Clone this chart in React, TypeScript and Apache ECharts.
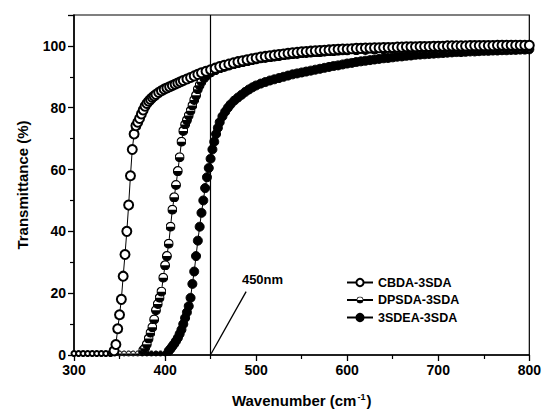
import React, { useEffect, useRef } from "react";
import * as echarts from "echarts";

const xTicks = [300, 400, 500, 600, 700, 800];
const yTicks = [0, 20, 40, 60, 80, 100];

const seriesNames = ["CBDA-3SDA", "DPSDA-3SDA", "3SDEA-3SDA"];

const cbda: [number, number][] = [
  [300, 0.5], [305, 0.5], [310, 0.5], [315, 0.5], [320, 0.5], [325, 0.5], [330, 0.5], [335, 0.5], [340, 0.5],
  [342, 0.7], [344, 1.4], [346, 3.4], [348, 8.5], [350, 13], [352, 18], [354, 25.5], [356, 32.5], [358, 40],
  [360, 48.5], [362, 58], [364, 66.5], [366, 71.5], [368, 74.2], [370, 75.3], [372, 76.5], [374, 78],
  [376, 79.3], [378, 80.5], [380, 81.4], [382, 82.1], [384, 82.7], [386, 83.3], [388, 83.8], [390, 84.3],
  [393, 84.9], [396, 85.5], [399, 86], [402, 86.4], [405, 86.8], [408, 87.2], [411, 87.6], [414, 88],
  [417, 88.4], [420, 88.8], [424, 89.3], [428, 89.8], [432, 90.3], [436, 90.8], [440, 91.3], [445, 91.8],
  [450, 92.3], [455, 92.8], [460, 93.3], [465, 93.7], [470, 94.1], [475, 94.5], [480, 94.9], [485, 95.2],
  [490, 95.5], [495, 95.8], [500, 96.1], [505, 96.4], [510, 96.6], [515, 96.8], [520, 97], [525, 97.2],
  [530, 97.4], [535, 97.6], [540, 97.8], [545, 97.9], [550, 98.1], [555, 98.2], [560, 98.3], [565, 98.4],
  [570, 98.5], [575, 98.6], [580, 98.7], [585, 98.8], [590, 98.9], [595, 99], [600, 99], [605, 99.1],
  [610, 99.2], [615, 99.2], [620, 99.3], [625, 99.3], [630, 99.4], [635, 99.4], [640, 99.5], [645, 99.5],
  [650, 99.5], [655, 99.6], [660, 99.6], [665, 99.7], [670, 99.7], [675, 99.7], [680, 99.8], [685, 99.8],
  [690, 99.8], [695, 99.9], [700, 99.9], [705, 99.9], [710, 100], [715, 100], [720, 100], [725, 100],
  [730, 100], [735, 100.1], [740, 100.1], [745, 100.1], [750, 100.1], [755, 100.1], [760, 100.1],
  [765, 100.2], [770, 100.2], [775, 100.2], [780, 100.2], [785, 100.2], [790, 100.2], [795, 100.2], [800, 100.2],
];

const dpsda: [number, number][] = [
  [300, 0.5], [305, 0.5], [310, 0.5], [315, 0.5], [320, 0.5], [325, 0.5], [330, 0.5], [335, 0.5], [340, 0.5],
  [345, 0.5], [350, 0.5], [355, 0.5], [360, 0.5], [365, 0.5], [370, 0.5],
  [373, 0.9], [376, 1.5], [378, 2.2], [380, 3.5], [382, 5.3], [384, 7.2], [386, 9], [388, 11.5], [390, 14.5],
  [392, 16.5], [394, 18.5], [396, 20.5], [398, 25], [400, 29], [402, 32], [404, 36], [406, 41.5], [408, 47],
  [410, 51], [412, 55], [414, 59.5], [416, 64], [418, 69], [420, 72.5], [422, 74.6], [424, 76], [426, 77.5],
  [428, 79], [430, 80.7], [432, 82.5], [434, 84], [436, 86], [438, 87.3], [440, 88.4], [443, 89.6],
  [446, 90.5], [450, 91.4], [455, 92.1], [460, 92.7], [465, 93.2], [470, 93.6], [475, 94], [480, 94.4],
  [485, 94.7], [490, 95], [495, 95.3], [500, 95.6], [505, 95.9], [510, 96.1], [515, 96.3], [520, 96.5],
  [525, 96.7], [530, 96.9], [535, 97.1], [540, 97.3], [545, 97.4], [550, 97.6], [555, 97.7], [560, 97.8],
  [565, 97.9], [570, 98], [575, 98.1], [580, 98.2], [585, 98.3], [590, 98.4], [595, 98.5], [600, 98.5],
  [610, 98.6], [620, 98.7], [630, 98.8], [640, 98.9], [650, 99], [660, 99.1], [670, 99.2], [680, 99.3],
  [690, 99.3], [700, 99.4], [710, 99.4], [720, 99.5], [730, 99.5], [740, 99.6], [750, 99.6], [760, 99.6],
  [770, 99.7], [780, 99.7], [790, 99.7], [800, 99.7],
];

const sdea: [number, number][] = [
  [300, 0.5], [305, 0.5], [310, 0.5], [315, 0.5], [320, 0.5], [325, 0.5], [330, 0.5], [335, 0.5], [340, 0.5],
  [345, 0.5], [350, 0.5], [355, 0.5], [360, 0.5], [365, 0.5], [370, 0.5], [375, 0.5], [380, 0.5], [385, 0.5],
  [390, 0.5], [395, 0.5], [400, 0.5],
  [402, 0.8], [404, 1.3], [406, 2], [408, 2.8], [410, 3.6], [412, 4.5], [414, 5.5], [416, 6.8], [418, 8.2],
  [420, 10], [422, 12], [424, 13.8], [426, 15.8], [428, 18.5], [430, 23], [432, 27], [434, 32], [436, 37],
  [438, 41.5], [440, 46], [442, 50], [444, 54], [446, 57.5], [448, 60.5], [450, 63.5], [452, 66.5],
  [454, 69], [456, 71.5], [458, 73.5], [460, 75.3], [463, 77.2], [466, 78.7], [469, 80], [472, 81.1],
  [476, 82.3], [480, 83.3], [484, 84.2], [488, 85.1], [492, 85.9], [496, 86.6], [500, 87.2], [505, 87.8],
  [510, 88.3], [515, 88.8], [520, 89.2], [525, 89.6], [530, 90], [535, 90.4], [540, 90.8], [545, 91.1],
  [550, 91.4], [555, 91.7], [560, 92], [565, 92.3], [570, 92.6], [575, 92.9], [580, 93.2], [585, 93.5],
  [590, 93.7], [595, 94], [600, 94.3], [605, 94.5], [610, 94.8], [615, 95], [620, 95.2], [625, 95.4],
  [630, 95.6], [635, 95.8], [640, 96], [645, 96.1], [650, 96.3], [655, 96.5], [660, 96.6], [665, 96.8],
  [670, 96.9], [675, 97.1], [680, 97.2], [685, 97.3], [690, 97.4], [695, 97.5], [700, 97.6], [705, 97.7],
  [710, 97.8], [715, 97.9], [720, 98], [725, 98], [730, 98.1], [735, 98.2], [740, 98.2], [745, 98.3],
  [750, 98.4], [755, 98.4], [760, 98.5], [765, 98.5], [770, 98.6], [775, 98.6], [780, 98.7], [785, 98.7],
  [790, 98.8], [795, 98.8], [800, 98.9],
];

const cutoffLine = 450;
const annotationText = "450nm";
const arrowFrom: [number, number] = [489, 20.5];
const arrowTo: [number, number] = [450.6, 0.4];
const labelAt: [number, number] = [507, 24.5];

const FONT = "'Liberation Sans', Arial, sans-serif";

const halfSvg =
  '<svg xmlns="http://www.w3.org/2000/svg" width="20" height="20" viewBox="0 0 20 20">' +
  '<circle cx="10" cy="10" r="8.8" fill="#ffffff" stroke="#000000" stroke-width="2.4"/>' +
  '<path d="M1.2 10 A8.8 8.8 0 0 0 18.8 10 Z" fill="#000000"/></svg>';
const halfSymbol = "image://data:image/svg+xml;charset=utf-8," + encodeURIComponent(halfSvg);

const sizeFn = (v: number[]) => (v[1] < 1 ? 5 : 9);
const sizeFnHalf = (v: number[]) => (v[1] < 1 ? 5 : 10);

export default function App() {
  const ref = useRef<HTMLDivElement>(null);
  useEffect(() => {
    if (!ref.current) return;
    const chart = echarts.init(ref.current, null, { renderer: "svg" });
    chart.setOption({
      animation: false,
      backgroundColor: "#fff",
      grid: {
        left: 74,
        right: 11,
        top: 15,
        bottom: 58,
        show: true,
        borderColor: "#000",
        borderWidth: 1.2,
        backgroundColor: "transparent",
      },
      legend: {
        orient: "vertical",
        left: 341,
        top: 271,
        itemWidth: 26,
        itemHeight: 9,
        itemGap: 4.5,
        data: seriesNames,
        textStyle: { fontFamily: FONT, fontWeight: "bold", fontSize: 12.5, color: "#000" },
        selectedMode: false,
      },
      xAxis: {
        type: "value",
        min: 300,
        max: 800,
        interval: 100,
        name: "Wavenumber (cm{sup|-1})",
        nameLocation: "middle",
        nameGap: 37,
        nameTextStyle: {
          fontFamily: FONT,
          fontWeight: "bold",
          fontSize: 15,
          color: "#000",
          rich: {
            sup: { fontFamily: FONT, fontWeight: "bold", fontSize: 9, color: "#000", verticalAlign: "top", padding: [0, 1, 8, 1] },
          },
        },
        axisLine: { lineStyle: { color: "#000", width: 1.5 } },
        axisTick: { show: true, inside: false, length: 6, lineStyle: { color: "#000", width: 1.3 } },
        minorTick: { show: true, splitNumber: 2, length: 4, lineStyle: { color: "#000", width: 1.2 } },
        splitLine: { show: false },
        axisLabel: {
          fontFamily: FONT,
          fontWeight: "bold",
          fontSize: 14,
          color: "#000",
          margin: 8,
          formatter: (v: number) => (xTicks.includes(v) ? String(v) : ""),
        },
      },
      yAxis: {
        type: "value",
        min: 0,
        max: 110,
        interval: 20,
        name: "Transmittance (%)",
        nameLocation: "middle",
        nameGap: 44,
        nameTextStyle: { fontFamily: FONT, fontWeight: "bold", fontSize: 15, color: "#000" },
        axisLine: { lineStyle: { color: "#000", width: 1.5 } },
        axisTick: { show: true, inside: false, length: 6, lineStyle: { color: "#000", width: 1.3 } },
        minorTick: { show: true, splitNumber: 2, length: 4, lineStyle: { color: "#000", width: 1.2 } },
        splitLine: { show: false },
        axisLabel: {
          fontFamily: FONT,
          fontWeight: "bold",
          fontSize: 14,
          color: "#000",
          margin: 8,
          formatter: (v: number) => (yTicks.includes(v) ? String(v) : ""),
        },
      },
      series: [
        {
          name: seriesNames[2],
          type: "line",
          data: sdea,
          symbol: "circle",
          symbolSize: sizeFn,
          showAllSymbol: true,
          itemStyle: { color: "#000", borderColor: "#000", borderWidth: 1 },
          lineStyle: { color: "#000", width: 1 },
          markLine: {
            silent: true,
            symbol: ["none", "arrow"],
            symbolSize: [0, 10],
            lineStyle: { color: "#000", width: 1.3, type: "solid" },
            label: { show: false },
            data: [[{ coord: arrowFrom }, { coord: arrowTo }]],
          },
          markPoint: {
            silent: true,
            symbol: "circle",
            symbolSize: 1,
            itemStyle: { color: "rgba(0,0,0,0)" },
            label: {
              show: true,
              position: "inside",
              formatter: annotationText,
              fontFamily: FONT,
              fontWeight: "bold",
              fontSize: 13,
              color: "#000",
            },
            data: [{ coord: labelAt }],
          },
        },
        {
          name: seriesNames[1],
          type: "line",
          data: dpsda,
          symbol: halfSymbol,
          symbolSize: sizeFnHalf,
          showAllSymbol: true,
          itemStyle: { color: "#000" },
          lineStyle: { color: "#000", width: 1 },
        },
        {
          name: seriesNames[0],
          type: "line",
          data: cbda,
          symbol: "emptyCircle",
          symbolSize: sizeFn,
          showAllSymbol: true,
          itemStyle: { color: "#000", borderColor: "#000", borderWidth: 1.4 },
          lineStyle: { color: "#000", width: 1 },
          markLine: {
            silent: true,
            symbol: ["none", "none"],
            lineStyle: { color: "#000", width: 1.2, type: "solid" },
            label: { show: false },
            data: [{ xAxis: cutoffLine }],
          },
        },
      ],
    });
    return () => chart.dispose();
  }, []);
  return <div ref={ref} style={{ width: 544, height: 413, position: "absolute", left: 0, top: 0 }} />;
}
